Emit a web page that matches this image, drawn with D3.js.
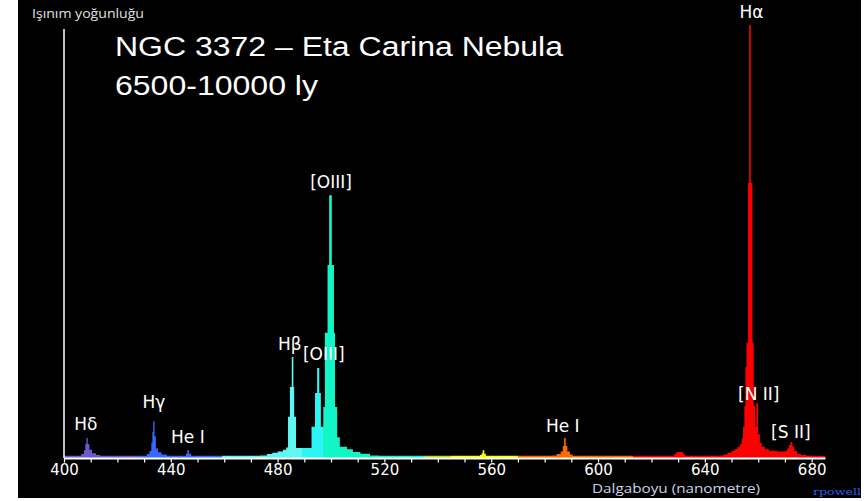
<!DOCTYPE html>
<html>
<head>
<meta charset="utf-8">
<script src="https://cdn.jsdelivr.net/npm/d3@7"></script>
<style>
  body { margin: 0; background: #fff; }
  svg { display: block; }
</style>
</head>
<body>
<div id="viz"></div>
<script>

// emission spectrum, [wavelength nm, relative intensity] (drawn as steps)
var spectrum = [
  [400, 0.5], [405.5, 0.5], [406.5, 0.9], [407.5, 1.8], [408.0, 3.3], [408.4, 4.6], [408.9, 3.2],
  [409.5, 1.9], [410.5, 1.1], [412, 0.7], [413.5, 0.5],
  [430, 0.5], [431, 0.9], [432, 1.6], [432.7, 3.5], [433.1, 6], [433.4, 8.5], [433.9, 5],
  [434.4, 2.2], [435.2, 1.3], [436.5, 0.8], [438.5, 0.5],
  [445, 0.5], [445.7, 1.0], [446.2, 1.85], [446.8, 1.0], [447.6, 0.5],
  [473.4, 0.6], [476, 0.9], [478, 1.2], [480, 1.5], [482, 1.9], [483.2, 2.4],
  [483.9, 9.5], [484.6, 16.4], [485.3, 23.3], [485.9, 16.4], [486.2, 9.5], [486.9, 2.3],
  [492.7, 7.2], [494.0, 15], [494.8, 20.8], [495.6, 15], [496.2, 7.2],
  [497.1, 11.8], [497.7, 28.9], [498.7, 44.6], [499.3, 60.7], [500.3, 44.6], [501.1, 28.9],
  [501.5, 11.8], [502.3, 4.8], [503.3, 2.6], [506, 2.0], [508.2, 1.4], [511, 1.0], [514.6, 0.6],
  [518, 0.5],
  [555.8, 0.7], [556.4, 1.1], [556.8, 1.8], [557.4, 1.0], [558, 0.5],
  [583, 0.6], [584.5, 0.9], [586, 1.5], [586.8, 2.8], [587.3, 4.6], [587.9, 2.8], [588.5, 1.5],
  [589.5, 0.8], [590.5, 0.5],
  [628.5, 0.9], [629.3, 1.4], [631.8, 0.9], [632.5, 0.5],
  [645.5, 0.6], [647, 0.8], [648.5, 1.2], [650, 1.6], [651.2, 2.1], [652.3, 2.6], [653.2, 3.2],
  [653.8, 4.5], [654.3, 7.2], [654.8, 12], [655.2, 21], [655.6, 26.6], [656.2, 63.5],
  [656.6, 100], [657.2, 63.5], [657.8, 26.6], [658.3, 12], [658.8, 7.2], [659.3, 12.7],
  [659.9, 5.5], [660.6, 3.5], [661.3, 2.6], [662.5, 2.0], [664, 1.7], [667, 1.5],
  [670, 1.6], [670.8, 2.2], [671.5, 3.0], [672.1, 3.7], [672.8, 2.6], [673.5, 1.6],
  [674.5, 1.0], [676, 0.7], [678, 0.5], [685, 0.5]
];

// colour of the spectrum by wavelength band
var bandStart = [400, 428, 459, 489, 497, 535, 545, 570, 613];
var bandColor = ["#6a5cd0", "#3468ff", "#5ef7f3", "#2ef5f5", "#12f5c6", "#b0e020", "#ffff00", "#ff6a00", "#ff0000"];

var tickLabels = [400, 440, 480, 520, 560, 600, 640, 680];

var lineLabels = [
  {text: "H\u03b4", wl: 408.2, level: 6.5},
  {text: "H\u03b3", wl: 433.7, level: 11.5},
  {text: "He I", wl: 446.4, level: 3.5},
  {text: "H\u03b2", wl: 484.6, level: 24.9},
  {text: "[OIII]", wl: 497.3, level: 22.6},
  {text: "[OIII]", wl: 500.0, level: 62.4},
  {text: "He I", wl: 586.8, level: 6.0},
  {text: "H\u03b1", wl: 657.5, level: 101.6},
  {text: "[N II]", wl: 660.2, level: 13.4},
  {text: "[S II]", wl: 672.2, level: 4.6}
];

var width = 864, height = 501;

var svg = d3.select("#viz").append("svg")
    .attr("width", width)
    .attr("height", height);

// black slide area
svg.append("rect")
    .attr("x", 18).attr("y", 0)
    .attr("width", 843).attr("height", 498)
    .attr("fill", "#000");

var x = d3.scaleLinear().domain([400, 685]).range([64, 825]),
    y = d3.scaleLinear().domain([0, 100]).range([458, 25]);

// gradient with hard stops for the bands
var grad = svg.append("defs").append("linearGradient")
    .attr("id", "spec")
    .attr("gradientUnits", "userSpaceOnUse")
    .attr("x1", x(400)).attr("x2", x(685))
    .attr("y1", 0).attr("y2", 0);

bandStart.forEach(function(s, i){
    var e = i < bandStart.length - 1 ? bandStart[i + 1] : 685;
    grad.append("stop").attr("offset", (s - 400) / 285).attr("stop-color", bandColor[i]);
    grad.append("stop").attr("offset", (e - 400) / 285).attr("stop-color", bandColor[i]);
});

var area = d3.area()
    .curve(d3.curveStepAfter)
    .x(function(d){ return x(d[0]); })
    .y0(y(0))
    .y1(function(d){ return y(d[1]); });

svg.append("path")
    .datum(spectrum)
    .attr("d", area)
    .attr("fill", "url(#spec)");

// x axis
var xAxis = d3.axisBottom(x)
    .tickValues(d3.range(400, 690, 10))
    .tickSizeInner(4.5)
    .tickSizeOuter(0)
    .tickPadding(2)
    .tickFormat(function(d){ return tickLabels.indexOf(d) >= 0 ? d : ""; });

var gx = svg.append("g")
    .attr("transform", "translate(0," + y(0) + ")")
    .call(xAxis);

gx.select(".domain").attr("stroke", "#fff").attr("stroke-width", 1.8);
gx.selectAll(".tick line").attr("stroke", "#fff").attr("stroke-width", 1.2);
gx.selectAll(".tick text")
    .attr("fill", "#fff")
    .style("font-family", "'DejaVu Sans', sans-serif")
    .style("font-size", "15px");

// y axis, just a line
svg.append("line")
    .attr("x1", x(400)).attr("x2", x(400))
    .attr("y1", 29).attr("y2", y(0))
    .attr("stroke", "#fff")
    .attr("stroke-width", 1.5);

// line labels
svg.selectAll(".lbl")
    .data(lineLabels)
    .enter().append("text")
    .attr("class", "lbl")
    .attr("x", function(d){ return x(d.wl); })
    .attr("y", function(d){ return y(d.level); })
    .attr("text-anchor", "middle")
    .attr("fill", "#fff")
    .style("font-family", "'DejaVu Sans', sans-serif")
    .style("font-size", "17px")
    .text(function(d){ return d.text; });

// titles
svg.append("text")
    .attr("x", 115).attr("y", 56)
    .attr("textLength", 448).attr("lengthAdjust", "spacingAndGlyphs")
    .attr("fill", "#fff")
    .style("font-family", "'Liberation Sans', Arial, sans-serif")
    .style("font-size", "27px")
    .text("NGC 3372 \u2013 Eta Carina Nebula");

svg.append("text")
    .attr("x", 115).attr("y", 95)
    .attr("textLength", 203).attr("lengthAdjust", "spacingAndGlyphs")
    .attr("fill", "#fff")
    .style("font-family", "'Liberation Sans', Arial, sans-serif")
    .style("font-size", "27px")
    .text("6500-10000 ly");

svg.append("text")
    .attr("x", 32).attr("y", 18)
    .attr("textLength", 112).attr("lengthAdjust", "spacingAndGlyphs")
    .attr("fill", "#e2e2e2")
    .style("font-family", "'Open Sans', sans-serif")
    .style("font-size", "12.5px")
    .text("I\u015f\u0131n\u0131m yo\u011funlu\u011fu");

svg.append("text")
    .attr("x", 592).attr("y", 493)
    .attr("textLength", 168).attr("lengthAdjust", "spacingAndGlyphs")
    .attr("fill", "#c8d6e6")
    .style("font-family", "'Open Sans', sans-serif")
    .style("font-size", "12.5px")
    .text("Dalgaboyu (nanometre)");

svg.append("text")
    .attr("x", 813).attr("y", 495)
    .attr("textLength", 48).attr("lengthAdjust", "spacingAndGlyphs")
    .attr("fill", "#2a5cf0")
    .style("font-family", "'DejaVu Serif', serif")
    .style("font-size", "10px")
    .text("rpowell");

</script>
</body>
</html>
